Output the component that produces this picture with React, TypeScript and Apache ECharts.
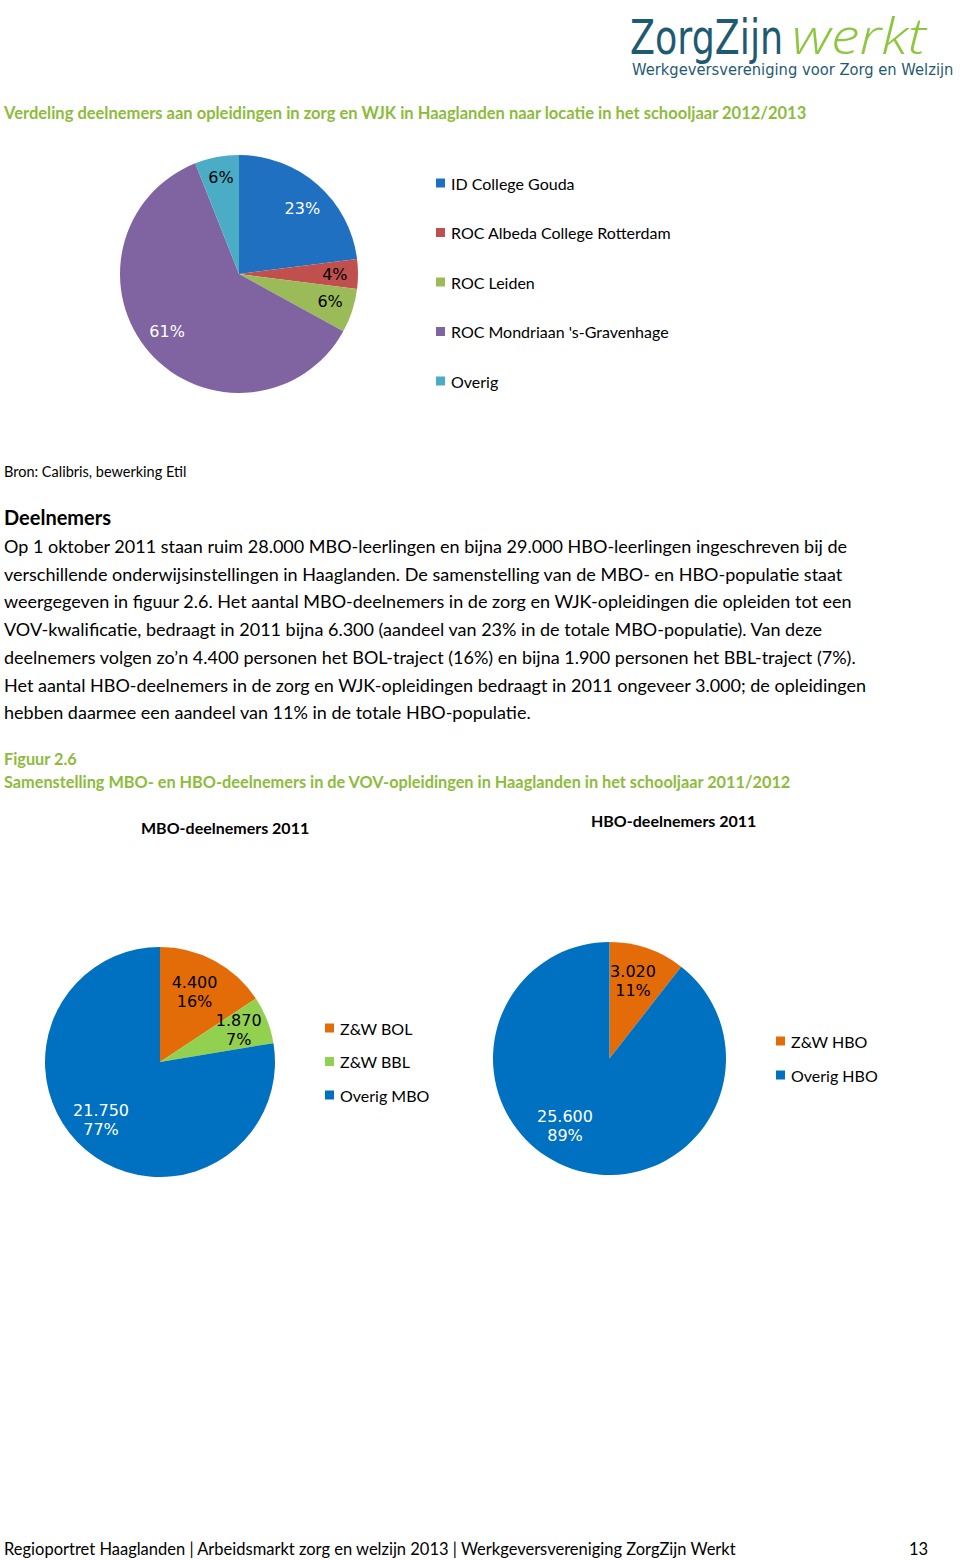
import React, { useEffect, useRef } from "react";
import * as echarts from "echarts";

const pie1Names = ["ID College Gouda", "ROC Albeda College Rotterdam", "ROC Leiden", "ROC Mondriaan 's-Gravenhage", "Overig"];
const pie1Values = [23, 4, 6, 61, 6];
const pie1Colors = ["#1F70C1", "#C0504D", "#9BBB59", "#8064A2", "#4BACC6"];
const pie1LabelColors = ["#ffffff", "#000000", "#000000", "#ffffff", "#000000"];
const pie1LabelNudge: [number, number][] = [[0, 6], [0, 0], [0, -2], [0, -6], [0, -2]];

const mboNames = ["Z&W BOL", "Z&W BBL", "Overig MBO"];
const mboValues = [4400, 1870, 21750];
const mboPct = [16, 7, 77];
const mboColors = ["#E36C09", "#92D050", "#0070C0"];
const mboLabelColors = ["#000000", "#000000", "#ffffff"];
const mboLabelNudge: [number, number][] = [[-5, 4], [1, -1], [-5, -6]];

const hboNames = ["Z&W HBO", "Overig HBO"];
const hboValues = [3020, 25600];
const hboPct = [11, 89];
const hboColors = ["#E36C09", "#0070C0"];
const hboLabelColors = ["#000000", "#ffffff"];
const hboLabelNudge: [number, number][] = [[-4, 2], [-17, -12]];

const paragraph = [
  "Op 1 oktober 2011 staan ruim 28.000 MBO-leerlingen en bijna 29.000 HBO-leerlingen ingeschreven bij de",
  "verschillende onderwijsinstellingen in Haaglanden. De samenstelling van de MBO- en HBO-populatie staat",
  "weergegeven in figuur 2.6. Het aantal MBO-deelnemers in de zorg en WJK-opleidingen die opleiden tot een",
  "VOV-kwalificatie, bedraagt in 2011 bijna 6.300 (aandeel van 23% in de totale MBO-populatie). Van deze",
  "deelnemers volgen zo\u2019n 4.400 personen het BOL-traject (16%) en bijna 1.900 personen het BBL-traject (7%).",
  "Het aantal HBO-deelnemers in de zorg en WJK-opleidingen bedraagt in 2011 ongeveer 3.000; de opleidingen",
  "hebben daarmee een aandeel van 11% in de totale HBO-populatie.",
];

const BODY_FONT = "Lato";
const LABEL_FONT = "DejaVu Sans";
const GREEN = "#8DBB3C";

function fmtThousands(v: number): string {
  const s = String(Math.round(v));
  return s.replace(/\B(?=(\d{3})+(?!\d))/g, ".");
}

function pieWithLabels(
  names: string[],
  values: number[],
  colors: string[],
  labelColors: string[],
  nudges: [number, number][],
  labelText: (i: number) => string,
  center: [number, number],
  r: number,
  labelRatio: number
) {
  const visible = {
    type: "pie",
    center,
    radius: r,
    startAngle: 90,
    clockwise: true,
    avoidLabelOverlap: false,
    label: { show: false },
    labelLine: { show: false },
    emphasis: { disabled: true },
    data: names.map((n, i) => ({ name: n, value: values[i], itemStyle: { color: colors[i] } })),
  };
  const overlay = {
    type: "pie",
    center,
    radius: r * labelRatio * 2,
    startAngle: 90,
    clockwise: true,
    silent: true,
    avoidLabelOverlap: false,
    emphasis: { disabled: true },
    labelLine: { show: false },
    z: 5,
    data: names.map((n, i) => ({
      name: n + "\u200b",
      value: values[i],
      itemStyle: { color: "rgba(0,0,0,0)", borderWidth: 0 },
      label: {
        show: true,
        position: "inside",
        formatter: labelText(i),
        color: labelColors[i],
        fontFamily: LABEL_FONT,
        fontSize: 16,
        lineHeight: 19,
        align: "center",
        offset: nudges[i],
        textBorderWidth: 0,
      },
    })),
  };
  return [visible, overlay];
}

function legendAt(names: string[], left: number, top: number, gap: number) {
  return {
    orient: "vertical",
    left,
    top,
    padding: 0,
    itemWidth: 9,
    itemHeight: 9,
    itemGap: gap,
    icon: "rect",
    selectedMode: false,
    data: names,
    textStyle: { fontFamily: BODY_FONT, fontSize: 16, color: "#000", lineHeight: 16, padding: [0, 0, 0, 1] },
  };
}

function txt(x: number, y: number, text: string, opts: any = {}) {
  return {
    type: "text",
    x,
    y,
    silent: true,
    style: {
      text,
      fill: opts.fill || "#000",
      fontFamily: opts.fontFamily || BODY_FONT,
      fontSize: opts.fontSize || 16,
      fontWeight: opts.fontWeight || "normal",
      fontStyle: opts.fontStyle || "normal",
      align: opts.align || "left",
      verticalAlign: "middle",
    },
    scaleX: opts.scaleX || 1,
  };
}

export default function App() {
  const ref = useRef<HTMLDivElement>(null);
  useEffect(() => {
    if (!ref.current) return;
    const chart = echarts.init(ref.current, null, { renderer: "svg" });
    const graphics: any[] = [];
    // logo
    graphics.push(txt(630, 37, "ZorgZijn", { fontFamily: "DejaVu Sans", fontSize: 48, fill: "#1F5A73", scaleX: 0.76 }));
    graphics.push(txt(792, 35, "werkt", { fontFamily: "Open Sans", fontSize: 50, fontWeight: 300, fill: "#8DC63F", fontStyle: "italic", scaleX: 1.15 }));
    graphics.push(txt(632, 70, "Werkgeversvereniging voor Zorg en Welzijn", { fontFamily: "DejaVu Sans", fontSize: 15.5, fill: "#1F5A73", scaleX: 0.95 }));
    // headings
    graphics.push(txt(4, 113, "Verdeling deelnemers aan opleidingen in zorg en WJK in Haaglanden naar locatie in het schooljaar 2012/2013", { fill: GREEN, fontWeight: "bold", fontSize: 16.5 }));
    graphics.push(txt(4, 471, "Bron: Calibris, bewerking Etil", { fontSize: 14.5 }));
    graphics.push(txt(4, 517, "Deelnemers", { fontSize: 20, fontWeight: "bold" }));
    paragraph.forEach((line, i) => {
      graphics.push(txt(4, 546 + i * 27.7, line, { fontSize: 18 }));
    });
    graphics.push(txt(4, 758, "Figuur 2.6", { fill: GREEN, fontWeight: "bold", fontSize: 16.3 }));
    graphics.push(txt(4, 781, "Samenstelling MBO- en HBO-deelnemers in de VOV-opleidingen in Haaglanden in het schooljaar 2011/2012", { fill: GREEN, fontWeight: "bold", fontSize: 16.3 }));
    graphics.push(txt(141, 827, "MBO-deelnemers 2011", { fontWeight: "bold", fontSize: 16 }));
    graphics.push(txt(591, 820, "HBO-deelnemers 2011", { fontWeight: "bold", fontSize: 16 }));
    graphics.push(txt(4, 1549, "Regioportret Haaglanden | Arbeidsmarkt zorg en welzijn 2013 | Werkgeversvereniging ZorgZijn Werkt", { fontSize: 16.5 }));
    graphics.push(txt(909, 1549, "13", { fontSize: 16.5 }));

    const series = [
      ...pieWithLabels(pie1Names, pie1Values, pie1Colors, pie1LabelColors, pie1LabelNudge, (i) => pie1Values[i] + "%", [239, 274], 119, 0.78),
      ...pieWithLabels(mboNames, mboValues, mboColors, mboLabelColors, mboLabelNudge, (i) => fmtThousands(mboValues[i]) + "\n" + mboPct[i] + "%", [160, 1062], 115, 0.7),
      ...pieWithLabels(hboNames, hboValues, hboColors, hboLabelColors, hboLabelNudge, (i) => fmtThousands(hboValues[i]) + "\n" + hboPct[i] + "%", [609.5, 1058.5], 116.5, 0.7),
    ];

    chart.setOption({
      animation: false,
      backgroundColor: "#ffffff",
      color: [...pie1Colors, ...mboColors],
      legend: [
        legendAt(pie1Names, 436, 175, 33.5),
        legendAt(mboNames, 325, 1020, 17.5),
        legendAt(hboNames, 776, 1033, 18),
      ],
      series,
      graphic: graphics,
    } as any);
    return () => chart.dispose();
  }, []);
  return <div ref={ref} style={{ position: "absolute", left: 0, top: 0, width: 960, height: 1560, background: "#fff" }} />;
}
